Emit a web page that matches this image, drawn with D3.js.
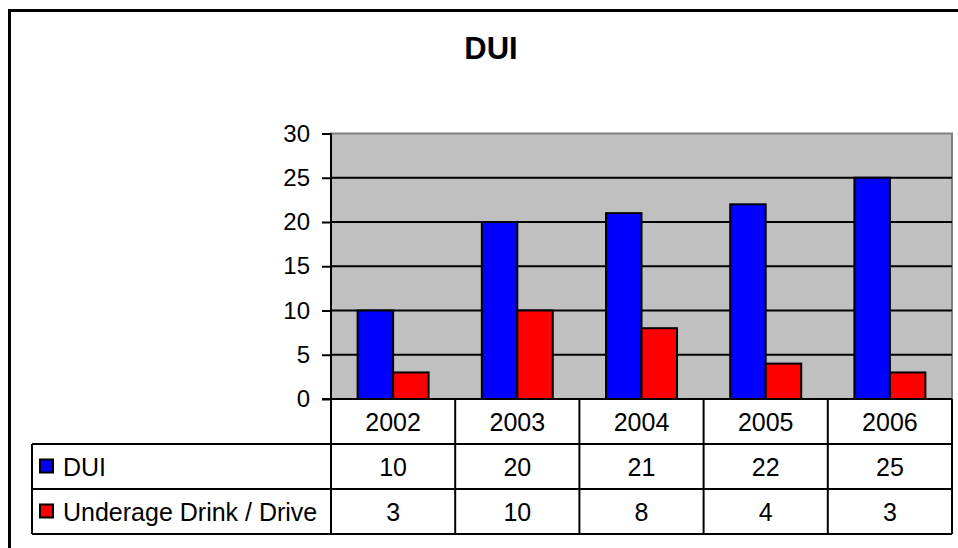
<!DOCTYPE html>
<html>
<head>
<meta charset="utf-8">
<script src="https://cdn.jsdelivr.net/npm/d3@7"></script>
<style>
  body { margin: 0; background: #fff; }
  text { font-family: "Liberation Sans", Arial, sans-serif; fill: #000; }
</style>
</head>
<body>
<div id="chart"></div>
<script>
const years = ['2002', '2003', '2004', '2005', '2006'];
const seriesNames = ['DUI', 'Underage Drink / Drive'];
const duiValues = [10, 20, 21, 22, 25];
const underageValues = [3, 10, 8, 4, 3];
const yTicks = [0, 5, 10, 15, 20, 25, 30];
const seriesColors = ['#0000ff', '#ff0000'];

const allSeries = [duiValues, underageValues];
const W = 958, H = 548;
const plot = { left: 331, right: 952, top: 133.5, bottom: 399 };
const table = { left: 32, rowH: 45 };

const svg = d3.select('#chart').append('svg')
  .attr('width', W)
  .attr('height', H);

// outer chart border (runs off the right and bottom edges)
svg.append('rect')
  .attr('x', 9.5).attr('y', 10.5)
  .attr('width', 1000).attr('height', 600)
  .attr('fill', '#fff')
  .attr('stroke', '#000')
  .attr('stroke-width', 3);

svg.append('text')
  .attr('x', 491).attr('y', 59)
  .attr('text-anchor', 'middle')
  .attr('font-size', 31)
  .attr('font-weight', 'bold')
  .text('DUI');

const x0 = d3.scaleBand()
  .domain(years)
  .range([plot.left, plot.right])
  .padding(0);

const x1 = d3.scaleBand()
  .domain(seriesNames)
  .range([0, x0.bandwidth()])
  .paddingInner(0)
  .paddingOuter(0.75);

const y = d3.scaleLinear()
  .domain([0, 30])
  .range([plot.bottom, plot.top]);

// plot area
svg.append('rect')
  .attr('x', plot.left).attr('y', plot.top)
  .attr('width', plot.right - plot.left)
  .attr('height', plot.bottom - plot.top)
  .attr('fill', '#c0c0c0')
  .attr('stroke', '#808080')
  .attr('stroke-width', 2);

// gridlines
svg.append('g')
  .selectAll('line')
  .data(yTicks.filter(t => t > 0 && t < 30))
  .enter()
  .append('line')
  .attr('x1', plot.left).attr('x2', plot.right)
  .attr('y1', d => y(d)).attr('y2', d => y(d))
  .attr('stroke', '#000')
  .attr('stroke-width', 2);

// bars
allSeries.forEach((vals, si) => {
  svg.append('g')
    .selectAll('rect')
    .data(vals)
    .enter()
    .append('rect')
    .attr('x', (d, i) => x0(years[i]) + x1(seriesNames[si]))
    .attr('y', d => y(d))
    .attr('width', x1.bandwidth())
    .attr('height', d => plot.bottom - y(d))
    .attr('fill', seriesColors[si])
    .attr('stroke', '#000')
    .attr('stroke-width', 2);
});

// y axis
const yAxis = svg.append('g')
  .attr('transform', `translate(${plot.left},0)`)
  .call(d3.axisLeft(y).tickValues(yTicks).tickSize(9).tickPadding(12));
yAxis.select('.domain').remove();
yAxis.selectAll('.tick line').attr('stroke', '#000').attr('stroke-width', 2);
yAxis.selectAll('.tick text')
  .attr('font-size', 24)
  .attr('font-family', '"Liberation Sans", Arial, sans-serif')
  .attr('fill', '#000');

svg.append('line')
  .attr('x1', plot.left).attr('x2', plot.left)
  .attr('y1', plot.top).attr('y2', plot.bottom)
  .attr('stroke', '#000').attr('stroke-width', 2);

// data table
const rowTop = i => plot.bottom + i * table.rowH;
const tableBottom = rowTop(3);

svg.append('line')
  .attr('x1', plot.left - 9).attr('x2', plot.right)
  .attr('y1', plot.bottom).attr('y2', plot.bottom)
  .attr('stroke', '#000').attr('stroke-width', 2);

[1, 2, 3].forEach(r => {
  svg.append('line')
    .attr('x1', table.left).attr('x2', plot.right)
    .attr('y1', rowTop(r)).attr('y2', rowTop(r))
    .attr('stroke', '#000').attr('stroke-width', 2);
});

svg.append('line')
  .attr('x1', table.left).attr('x2', table.left)
  .attr('y1', rowTop(1)).attr('y2', tableBottom)
  .attr('stroke', '#000').attr('stroke-width', 2);

svg.append('g')
  .selectAll('line')
  .data(years.map(yr => x0(yr)).concat([plot.right]))
  .enter()
  .append('line')
  .attr('x1', d => d).attr('x2', d => d)
  .attr('y1', plot.bottom).attr('y2', tableBottom)
  .attr('stroke', '#000').attr('stroke-width', 2);

svg.append('g')
  .selectAll('text')
  .data(years)
  .enter()
  .append('text')
  .attr('x', d => x0(d) + x0.bandwidth() / 2)
  .attr('y', rowTop(0) + table.rowH / 2)
  .attr('dy', '0.36em')
  .attr('text-anchor', 'middle')
  .attr('font-size', 25)
  .text(d => d);

allSeries.forEach((vals, si) => {
  const cy = rowTop(si + 1) + table.rowH / 2;
  svg.append('rect')
    .attr('x', 40).attr('y', cy - 7)
    .attr('width', 13).attr('height', 13)
    .attr('fill', seriesColors[si])
    .attr('stroke', '#000')
    .attr('stroke-width', 2);
  svg.append('text')
    .attr('x', 63).attr('y', cy)
    .attr('dy', '0.36em')
    .attr('font-size', 25)
    .text(seriesNames[si]);
  svg.append('g')
    .selectAll('text')
    .data(vals)
    .enter()
    .append('text')
    .attr('x', (d, i) => x0(years[i]) + x0.bandwidth() / 2)
    .attr('y', cy)
    .attr('dy', '0.36em')
    .attr('text-anchor', 'middle')
    .attr('font-size', 25)
    .text(d => d);
});
</script>
</body>
</html>
